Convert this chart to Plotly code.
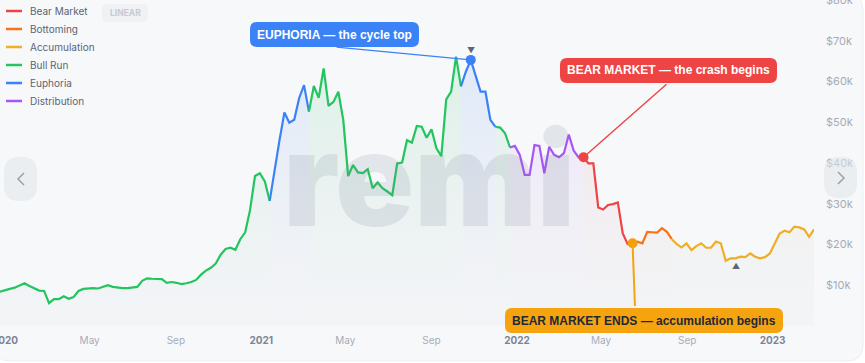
import plotly.graph_objects as go
import pandas as pd

# ---------------- data ----------------
start_date = "2019-12-25"
price_k = [
    8.4, 8.8, 9.1, 9.4, 10.0, 10.5, 9.8, 9.2, 8.7, 8.6,
    5.6, 6.6, 6.6, 7.3, 6.7, 7.1, 8.6, 9.1, 9.2, 9.3,
    9.2, 9.6, 10.0, 9.6, 9.4, 9.3, 9.3, 9.4, 9.6, 11.1,
    11.7, 11.6, 11.6, 11.5, 10.6, 10.8, 10.6, 10.3, 10.5, 10.8,
    11.3, 12.6, 13.6, 14.3, 15.3, 17.5, 18.9, 19.2, 18.7, 21.3,
    23.0, 28.5, 36.8, 37.5, 35.5, 30.7, 38.7, 45.6, 52.4, 49.9,
    50.6, 55.9, 59.1, 52.6, 58.9, 56.0, 63.2, 54.0, 55.0, 57.5,
    50.6, 36.8, 39.5, 37.7, 37.5, 38.5, 33.8, 35.2, 33.8, 33.0,
    32.1, 39.9, 40.1, 45.6, 45.0, 49.1, 48.9, 46.2, 48.3, 43.6,
    41.7, 55.6, 57.5, 66.1, 58.8, 62.4, 65.3, 61.2, 57.5, 57.5,
    50.6, 48.9, 48.7, 47.3, 43.8, 44.2, 42.0, 37.1, 37.1, 44.4,
    44.2, 37.5, 44.0, 42.0, 41.4, 42.4, 47.0, 43.0, 41.4, 41.4,
    39.9, 39.9, 29.1, 28.6, 29.7, 29.9, 30.3, 22.7, 20.1, 20.3,
    20.7, 20.3, 23.1, 23.0, 22.9, 24.0, 23.1, 21.3, 20.1, 19.3,
    20.3, 18.6, 19.6, 20.3, 19.2, 19.2, 20.7, 20.3, 16.0, 16.6,
    16.6, 17.0, 16.9, 17.8, 17.0, 16.6, 16.9, 17.8, 20.3, 22.7,
    23.4, 23.0, 24.4, 24.2, 23.7, 21.9, 23.7,
]

phase_names = ["Bear Market", "Bottoming", "Accumulation", "Bull Run", "Euphoria", "Distribution"]
phase_colors = ["#ef4444", "#f97316", "#eeaf25", "#22c55e", "#3b82f6", "#a855f7"]
phase_rgb = ["239,68,68", "249,115,22", "238,175,37", "34,197,94", "59,130,246", "168,85,247"]

segment_phase = ["Bull Run", "Euphoria", "Bull Run", "Euphoria", "Bull Run",
                 "Distribution", "Bear Market", "Bottoming", "Accumulation"]
segment_start = [0, 55, 63, 94, 101, 104, 119, 129, 137]

top_idx, bear_idx, bottom_idx, low_idx = 96, 119, 129, 150
top_text = "EUPHORIA — the cycle top"
bear_text = "BEAR MARKET — the crash begins"
end_text = "BEAR MARKET ENDS — accumulation begins"

tick_dates = ["2020-01-01", "2020-05-01", "2020-09-01", "2021-01-01", "2021-05-01", "2021-09-01",
              "2022-01-01", "2022-05-01", "2022-09-01", "2023-01-01"]
tick_labels = ["2020", "May", "Sep", "2021", "May", "Sep", "2022", "May", "Sep", "2023"]
y_ticks = [10000, 20000, 30000, 40000, 50000, 60000, 70000, 80000]
y_labels = ["$10k", "$20k", "$30k", "$40k", "$50k", "$60k", "$70k", "$80k"]
y_max = 80000

dates = pd.date_range(start_date, periods=len(price_k), freq="7D")
prices = [v * 1000 for v in price_k]

# ---------------- geometry helpers (pixel -> paper) ----------------
W, H = 865, 363
ML, MR, MT, MB = 0, 51, 0, 37
PW, PH = W - ML - MR, H - MT - MB


def px(x):
    return (x - ML) / PW


def py(y):
    return (PH + MT - y) / PH


def data_px(i):
    span = (dates[-1] - dates[0]).total_seconds()
    xp = ML + (dates[i] - dates[0]).total_seconds() / span * PW
    yp = MT + PH - prices[i] / y_max * PH
    return xp, yp


def rrect(x0, y0, x1, y1, r):
    pts = [
        ("M", [(x0 + r, y0)]), ("L", [(x1 - r, y0)]), ("Q", [(x1, y0), (x1, y0 + r)]),
        ("L", [(x1, y1 - r)]), ("Q", [(x1, y1), (x1 - r, y1)]), ("L", [(x0 + r, y1)]),
        ("Q", [(x0, y1), (x0, y1 - r)]), ("L", [(x0, y0 + r)]), ("Q", [(x0, y0), (x0 + r, y0)]),
    ]
    s = ""
    for cmd, ps in pts:
        s += cmd + " " + " ".join(f"{px(a):.5f},{py(b):.5f}" for a, b in ps) + " "
    return s + "Z"


fig = go.Figure()
shapes = []
annotations = []

# card background
shapes.append(dict(type="path", xref="paper", yref="paper", layer="below",
                   path=rrect(-6, -6, 863, 361, 16), fillcolor="#f7f8fa",
                   line=dict(color="#eceef2", width=1)))

# watermark
annotations.append(dict(xref="paper", yref="paper", x=px(429), y=py(179), text="remi",
                        showarrow=False, xanchor="center", yanchor="middle",
                        font=dict(family="Inter", size=130, weight=900,
                                  color="rgba(120,130,148,0.16)")))

# ---------------- series ----------------
color_of = dict(zip(phase_names, phase_colors))
rgb_of = dict(zip(phase_names, phase_rgb))
for k, ph in enumerate(segment_phase):
    s = segment_start[k]
    e = segment_start[k + 1] if k + 1 < len(segment_start) else len(prices) - 1
    fig.add_trace(go.Scatter(
        x=dates[s:e + 1], y=prices[s:e + 1], mode="lines",
        line=dict(color=color_of[ph], width=2.2),
        fill="tozeroy",
        fillgradient=dict(type="vertical", start=0, stop=70000,
                          colorscale=[[0, "rgba(148,160,180,0.04)"],
                                      [1, f"rgba({rgb_of[ph]},0.13)"]]),
        hoverinfo="skip", showlegend=False, name=ph))

# connectors (tail given in pixels of the callout box)
for idx, col, tx, ty, w in [(top_idx, "#3b82f6", 335, 47, 1.4),
                            (bear_idx, "#ef4444", 668, 83, 1.4),
                            (bottom_idx, "#f5a30f", 635, 308, 2)]:
    xp, yp = data_px(idx)
    annotations.append(dict(x=dates[idx], y=prices[idx], xref="x", yref="y", text=" ",
                            font=dict(size=1), showarrow=True, arrowhead=0, arrowwidth=w,
                            arrowcolor=col, axref="pixel", ayref="pixel",
                            ax=tx - xp, ay=ty - yp))

# event dots
for idx, col in [(top_idx, color_of["Euphoria"]), (bear_idx, color_of["Bear Market"]),
                 (bottom_idx, "#f59e0b")]:
    fig.add_trace(go.Scatter(x=[dates[idx]], y=[prices[idx]], mode="markers",
                             marker=dict(size=10, color=col), hoverinfo="skip",
                             showlegend=False, cliponaxis=False))

# callout boxes
for (x0, y0, x1, y1, fillc, txt, tcol) in [
        (250, 22, 419, 47, "#3b82f6", top_text, "#ffffff"),
        (560, 58, 777, 83, "#ef4444", bear_text, "#ffffff"),
        (505, 308, 783, 333, "#f5a30f", end_text, "#1f2937")]:
    shapes.append(dict(type="path", xref="paper", yref="paper", layer="above",
                       path=rrect(x0, y0, x1, y1, 7), fillcolor=fillc, line=dict(width=0)))
    annotations.append(dict(xref="paper", yref="paper", x=px((x0 + x1) / 2), y=py((y0 + y1) / 2),
                            text=f"<b>{txt}</b>", showarrow=False, xanchor="center",
                            yanchor="middle",
                            font=dict(family="Liberation Sans", size=12, color=tcol)))

# peak / low markers
annotations.append(dict(x=dates[top_idx], y=prices[top_idx], xref="x", yref="y", text="▼",
                        showarrow=False, yshift=10, font=dict(size=8, color="#5b6577")))
annotations.append(dict(x=dates[low_idx], y=prices[low_idx], xref="x", yref="y", text="▲",
                        showarrow=False, yshift=-8, font=dict(size=8, color="#5b6577")))

# legend (manual)
for i, (nm, col) in enumerate(zip(phase_names, phase_colors)):
    yy = 11 + i * 18
    shapes.append(dict(type="line", xref="paper", yref="paper", x0=px(6), x1=px(22),
                       y0=py(yy), y1=py(yy), line=dict(color=col, width=2.5)))
    annotations.append(dict(xref="paper", yref="paper", x=px(28), y=py(yy), text=nm,
                            showarrow=False, xanchor="left", yanchor="middle",
                            font=dict(family="Inter", size=10, color="#5b6474")))

# LINEAR toggle
shapes.append(dict(type="path", xref="paper", yref="paper", layer="above",
                   path=rrect(102, 4, 148, 22, 5), fillcolor="#eff1f4", line=dict(width=0)))
annotations.append(dict(xref="paper", yref="paper", x=px(125), y=py(13), text="<b>LINEAR</b>",
                        showarrow=False, xanchor="center", yanchor="middle",
                        font=dict(family="Inter", size=8.5, color="#c5cad2")))

# nav buttons
for (x0, y0, x1, y1, chev) in [(4, 157, 37, 201, [(24, 173), (18, 179), (24, 185)]),
                               (824, 157, 857, 198, [(838, 172), (844, 178), (838, 184)])]:
    shapes.append(dict(type="path", xref="paper", yref="paper", layer="above",
                       path=rrect(x0, y0, x1, y1, 15), fillcolor="rgba(226,229,234,0.55)",
                       line=dict(width=0)))
    p = "M " + " L ".join(f"{px(a):.5f},{py(b):.5f}" for a, b in chev)
    shapes.append(dict(type="path", xref="paper", yref="paper", layer="above", path=p,
                       line=dict(color="#9aa1ad", width=1.5)))

ticktext = []
for lab in tick_labels:
    if lab.isdigit():
        ticktext.append(f"<span style='color:#7d8595'><b>{lab}</b></span>")
    else:
        ticktext.append(lab)

fig.update_layout(
    width=W, height=H, margin=dict(l=ML, r=MR, t=MT, b=MB),
    paper_bgcolor="#ffffff", plot_bgcolor="rgba(0,0,0,0)",
    showlegend=False, hovermode=False,
    font=dict(family="Inter"),
    shapes=shapes, annotations=annotations,
    xaxis=dict(type="date", range=[dates[0], dates[-1]], tickvals=tick_dates, ticktext=ticktext,
               showgrid=False, zeroline=False, showline=False, ticks="",
               tickfont=dict(family="Inter", size=10, color="#a6adb9"),
               ticklabelstandoff=7, ticklabeloverflow="allow",
               automargin=False, fixedrange=True),
    yaxis=dict(range=[0, y_max], side="right", tickvals=y_ticks, ticktext=y_labels,
               showgrid=False, zeroline=False, showline=False, ticks="",
               tickfont=dict(family="Inter", size=11, color="#a3abb8"),
               ticklabelstandoff=11, ticklabeloverflow="allow",
               automargin=False, fixedrange=True),
)

fig.write_html("out.html", config={"displayModeBar": False})
